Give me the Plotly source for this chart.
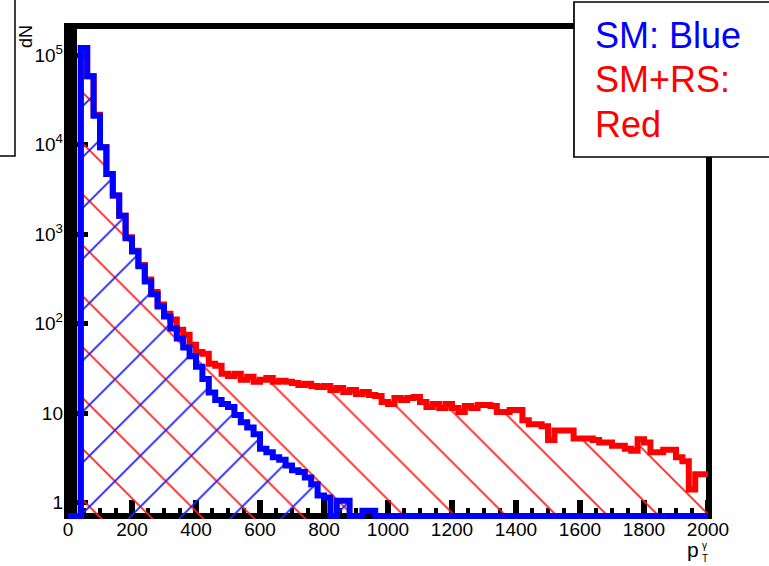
import numpy as np
import plotly.graph_objects as go

# ---------------- data ----------------
BIN_EDGES = np.arange(0, 2001, 20)  # p_T^gamma bin edges (100 bins of 20)

SM_BLUE = [
    0, 0, 120000, 58000, 21000, 9300, 4700, 2700, 1600, 900,
    640, 437, 295, 212, 155, 120, 88, 68, 54, 43,
    33, 24, 17, 14, 12.6, 11.7, 9.5, 7.9, 6.9, 5.8,
    4.0, 3.65, 3.2, 3.0, 2.6, 2.3, 2.2, 1.9, 1.6, 1.2,
    1.14, 0, 1.05, 1.05, 0, 0, 0.81, 0.81, 0, 0,
    0, 0, 0, 0, 0, 0, 0, 0, 0, 0,
    0, 0, 0, 0, 0, 0, 0, 0, 0, 0,
    0, 0, 0, 0, 0, 0, 0, 0, 0, 0,
    0, 0, 0, 0, 0, 0, 0, 0, 0, 0,
    0, 0, 0, 0, 0, 0, 0, 0, 0, 0,
]

SMRS_RED = [
    0, 0, 120000, 58000, 21500, 9300, 4700, 2700, 1600, 920,
    650, 450, 310, 225, 163, 129, 111, 85, 75, 58,
    48, 46, 35.5, 33.7, 27.4, 26, 27.4, 23.5, 25.4, 22.3,
    23.5, 24.7, 22.3, 22.9, 22.3, 21.7, 20.6, 21.2, 20, 19.6,
    20, 18.1, 19.1, 17.2, 18.1, 16.3, 17.2, 15.9, 15.5, 13.3,
    12.6, 14.7, 14, 14.7, 15.1, 13.3, 11.7, 12.6, 11.4, 12.6,
    11.4, 10.3, 12, 11.4, 12.3, 12.3, 12, 10.3, 10.3, 10.8,
    10.8, 8.3, 7.5, 7.5, 7.1, 5.0, 6.4, 6.4, 6.4, 5.2,
    5.2, 5.2, 5.0, 4.7, 4.7, 4.3, 4.3, 4.0, 3.8, 5.1,
    4.7, 3.65, 3.65, 3.9, 3.9, 3.2, 2.9, 1.4, 2.07, 2.07,
]

X_TICKS = [0, 200, 400, 600, 800, 1000, 1200, 1400, 1600, 1800, 2000]
X_TICK_LABELS = ["0", "200", "400", "600", "800", "1000", "1200", "1400",
                 "1600", "1800", "2000"]
Y_TICKS = [1, 10, 100, 1000, 10000, 100000]
Y_TICK_LABELS = ["1", "10", "10<sup>2</sup>", "10<sup>3</sup>",
                 "10<sup>4</sup>", "10<sup>5</sup>"]
Y_MINOR = [m * d for d in [1, 10, 100, 1000, 10000, 100000] for m in range(2, 10)]
LEGEND_LINES = ["SM: Blue", "SM+RS:", "Red"]
LEGEND_COLORS = ["#0000ff", "#ff0000", "#ff0000"]
Y_FLOOR = 0.706  # histogram minimum: empty bins are drawn on the frame bottom

# ---------------- geometry helpers ----------------
W, H = 769, 566
PL, PR, PT, PB = 64, 712, 23, 519  # plot area in pixels
FONT = "Liberation Sans, Arial, Helvetica, sans-serif"


def px(x):
    return (x - PL) / (PR - PL)


def py(y):
    return (PB - y) / (PB - PT)


def step(values):
    v = np.asarray(values, dtype=float)
    v = np.where(v > 0, v, Y_FLOOR)
    return BIN_EDGES, np.append(v, v[-1])


fig = go.Figure()

xr, yr = step(SMRS_RED)
fig.add_trace(go.Scatter(
    x=xr, y=yr, mode="lines",
    line=dict(color="#ff0000", width=6, shape="hv"),
    fill="tozeroy", fillcolor="rgba(0,0,0,0)",
    fillpattern=dict(shape="\\", fgcolor="#ff2020", bgcolor="rgba(0,0,0,0)",
                     size=36, solidity=0.05, fillmode="replace"),
    hoverinfo="skip",
))

xb, yb = step(SM_BLUE)
fig.add_trace(go.Scatter(
    x=xb, y=yb, mode="lines",
    line=dict(color="#0000ff", width=6, shape="hv"),
    fill="tozeroy", fillcolor="rgba(0,0,0,0)",
    fillpattern=dict(shape="/", fgcolor="#2020ff", bgcolor="rgba(0,0,0,0)",
                     size=36, solidity=0.05, fillmode="replace"),
    hoverinfo="skip",
))

fig.update_xaxes(
    range=[-12.5, 2012.5], tickmode="array", tickvals=X_TICKS, ticktext=X_TICK_LABELS,
    ticks="inside", ticklen=19, tickwidth=6, tickcolor="black",
    minor=dict(dtick=50, tick0=0, ticks="inside", ticklen=11, tickwidth=4,
               tickcolor="black"),
    showline=False, zeroline=False, showgrid=False, layer="below traces",
    tickfont=dict(family=FONT, size=19, color="black"),
    ticklabelstandoff=-3,
)
fig.update_yaxes(
    type="log", range=[-0.184, 5.358], tickmode="array", tickvals=Y_TICKS,
    ticktext=Y_TICK_LABELS,
    ticks="inside", ticklen=24, tickwidth=5, tickcolor="black",
    minor=dict(tickmode="array", tickvals=Y_MINOR, ticks="inside", ticklen=13,
               tickwidth=4, tickcolor="black"),
    showline=False, zeroline=False, showgrid=False, layer="below traces",
    tickfont=dict(family=FONT, size=19, color="black"),
)

shapes = [
    # frame
    dict(type="line", xref="paper", yref="paper", x0=px(70.5), x1=px(70.5),
         y0=py(519), y1=py(23), line=dict(color="black", width=13), layer="below"),
    dict(type="line", xref="paper", yref="paper", x0=px(64), x1=px(712),
         y0=py(26), y1=py(26), line=dict(color="black", width=6), layer="below"),
    dict(type="line", xref="paper", yref="paper", x0=px(709), x1=px(709),
         y0=py(519), y1=py(23), line=dict(color="black", width=6), layer="below"),
    dict(type="line", xref="paper", yref="paper", x0=px(64), x1=px(712),
         y0=py(516), y1=py(516), line=dict(color="black", width=6), layer="below"),
    # partial box at the top left
    dict(type="rect", xref="paper", yref="paper", x0=px(-5), x1=px(15),
         y0=py(156), y1=py(-5), line=dict(color="black", width=1.5),
         fillcolor="white", layer="above"),
    # legend box
    dict(type="rect", xref="paper", yref="paper", x0=px(574), x1=px(790),
         y0=py(157), y1=py(2), line=dict(color="black", width=1.7),
         fillcolor="white", layer="above"),
]

annotations = []
for txt, col, base in zip(LEGEND_LINES, LEGEND_COLORS, [48.3, 91.7, 136.7]):
    annotations.append(dict(
        text=txt, xref="paper", yref="paper", x=px(594), y=py(base - 12.5),
        xanchor="left", yanchor="middle", showarrow=False, borderpad=0,
        font=dict(family=FONT, size=36, color=col)))

annotations += [
    dict(text="dN", xref="paper", yref="paper", x=px(25.5), y=py(36.5),
         xanchor="center", yanchor="middle", textangle=-90, showarrow=False,
         borderpad=0, font=dict(family=FONT, size=18, color="black")),
    dict(text="p", xref="paper", yref="paper", x=px(686), y=py(549),
         xanchor="left", yanchor="middle", showarrow=False, borderpad=0,
         font=dict(family=FONT, size=21, color="black")),
    dict(text="γ", xref="paper", yref="paper", x=px(701), y=py(545),
         xanchor="left", yanchor="middle", showarrow=False, borderpad=0,
         font=dict(family=FONT, size=10, color="black")),
    dict(text="T", xref="paper", yref="paper", x=px(701), y=py(558),
         xanchor="left", yanchor="middle", showarrow=False, borderpad=0,
         font=dict(family=FONT, size=10, color="black")),
]

fig.update_layout(
    width=W, height=H,
    margin=dict(l=PL, r=W - PR, t=PT, b=H - PB, pad=0),
    paper_bgcolor="white", plot_bgcolor="white",
    showlegend=False, shapes=shapes, annotations=annotations,
    font=dict(family=FONT),
)

fig.write_html(
    "out.html",
    config={"displayModeBar": False, "staticPlot": True},
    post_script="document.body.style.margin='0';document.body.style.overflow='hidden';",
)
